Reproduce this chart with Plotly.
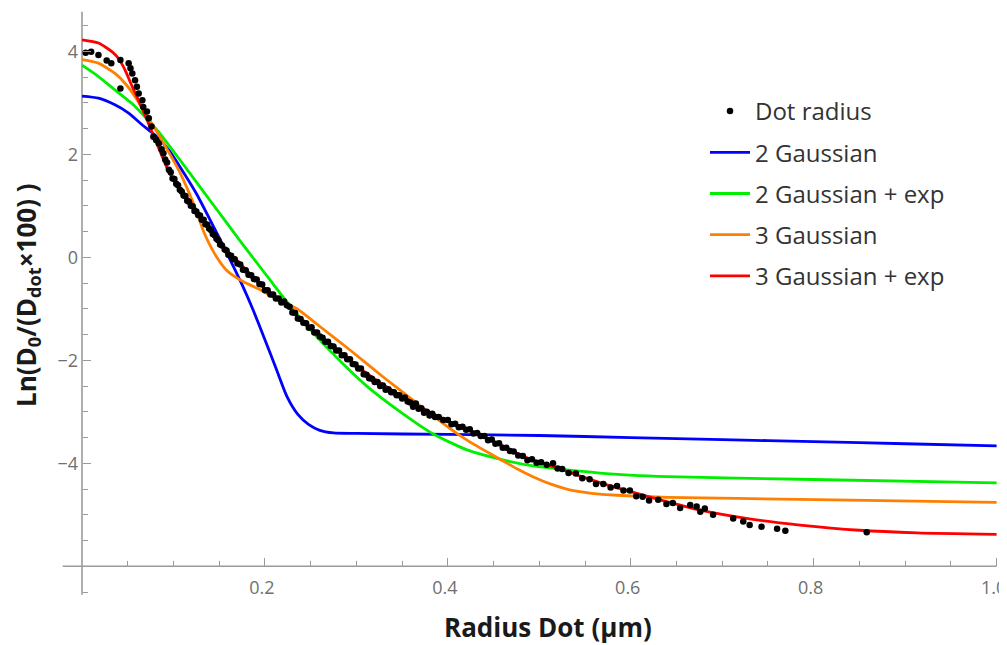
import plotly.graph_objects as go

# ---------------- data ----------------
dot_x = [0.004, 0.010, 0.018, 0.027, 0.032, 0.042, 0.042, 0.051, 0.053, 0.055,
         0.058, 0.060, 0.062, 0.066, 0.067, 0.071, 0.073, 0.076, 0.078, 0.081,
         0.084, 0.087, 0.089, 0.091, 0.093, 0.095, 0.097, 0.099, 0.101, 0.103,
         0.105, 0.107, 0.109, 0.111, 0.113, 0.115, 0.117, 0.119, 0.121, 0.123,
         0.125, 0.127, 0.129, 0.131, 0.133, 0.135, 0.137, 0.139, 0.141, 0.143,
         0.145, 0.147, 0.149, 0.151, 0.153, 0.156, 0.158, 0.160, 0.163, 0.165,
         0.167, 0.170, 0.173, 0.176, 0.179, 0.182, 0.185, 0.188, 0.191, 0.194,
         0.197, 0.200, 0.203, 0.206, 0.209, 0.212, 0.215, 0.218, 0.221, 0.224,
         0.227, 0.230, 0.233, 0.236, 0.239, 0.242, 0.245, 0.248, 0.251, 0.254,
         0.257, 0.260, 0.263, 0.266, 0.269, 0.272, 0.275, 0.278, 0.281, 0.284,
         0.287, 0.290, 0.293, 0.296, 0.299, 0.302, 0.305, 0.308, 0.311, 0.314,
         0.317, 0.320, 0.323, 0.326, 0.329, 0.332, 0.335, 0.338, 0.341, 0.344,
         0.347, 0.350, 0.353, 0.356, 0.359, 0.362, 0.365, 0.368, 0.371, 0.374,
         0.377, 0.380, 0.383, 0.386, 0.390, 0.395, 0.400, 0.404, 0.408, 0.412,
         0.416, 0.420, 0.424, 0.428, 0.432, 0.436, 0.440, 0.444, 0.448, 0.452,
         0.456, 0.460, 0.464, 0.468, 0.472, 0.477, 0.482, 0.487, 0.492, 0.497,
         0.502, 0.508, 0.515, 0.520, 0.525, 0.532, 0.540, 0.547, 0.555, 0.562,
         0.570, 0.578, 0.585, 0.592, 0.599, 0.606, 0.613, 0.620, 0.630, 0.639,
         0.646, 0.654, 0.665, 0.672, 0.676, 0.681, 0.690, 0.712, 0.723, 0.730,
         0.743, 0.760, 0.769, 0.858]
dot_y = [3.97, 3.99, 3.93, 3.82, 3.77, 3.83, 3.28, 3.77, 3.67, 3.57,
         3.44, 3.31, 3.18, 3.05, 2.92, 2.83, 2.70, 2.54, 2.34, 2.28,
         2.21, 2.10, 2.02, 1.90, 1.84, 1.70, 1.65, 1.53, 1.52, 1.43,
         1.40, 1.31, 1.28, 1.20, 1.19, 1.10, 1.08, 1.00, 0.99, 0.90,
         0.89, 0.82, 0.81, 0.73, 0.73, 0.64, 0.63, 0.56, 0.53, 0.45,
         0.43, 0.36, 0.33, 0.25, 0.23, 0.15, 0.13, 0.05, 0.03, -0.04,
         -0.04, -0.12, -0.14, -0.24, -0.25, -0.34, -0.35, -0.42, -0.43, -0.52,
         -0.53, -0.64, -0.64, -0.72, -0.72, -0.80, -0.80, -0.88, -0.86, -0.93,
         -0.96, -1.07, -1.08, -1.19, -1.20, -1.27, -1.28, -1.37, -1.36, -1.46,
         -1.46, -1.54, -1.56, -1.64, -1.64, -1.72, -1.73, -1.81, -1.81, -1.90,
         -1.90, -1.98, -1.98, -2.07, -2.08, -2.16, -2.16, -2.27, -2.28, -2.35,
         -2.36, -2.42, -2.42, -2.50, -2.49, -2.57, -2.56, -2.62, -2.62, -2.68,
         -2.68, -2.74, -2.72, -2.80, -2.82, -2.90, -2.84, -2.94, -2.93, -3.02,
         -3.00, -3.07, -3.04, -3.10, -3.10, -3.16, -3.16, -3.24, -3.23, -3.30,
         -3.29, -3.35, -3.34, -3.42, -3.41, -3.47, -3.47, -3.55, -3.54, -3.62,
         -3.61, -3.70, -3.70, -3.76, -3.77, -3.85, -3.86, -3.94, -3.92, -3.99,
         -3.98, -4.03, -4.00, -4.10, -4.11, -4.19, -4.20, -4.29, -4.31, -4.40,
         -4.40, -4.47, -4.44, -4.53, -4.53, -4.64, -4.65, -4.72, -4.71, -4.79,
         -4.77, -4.87, -4.81, -4.84, -4.94, -4.88, -5.00, -5.07, -5.13, -5.20,
         -5.23, -5.27, -5.31, -5.34]

g2_x = [0.000, 0.018, 0.036, 0.051, 0.066, 0.073, 0.082, 0.095, 0.107, 0.125,
        0.144, 0.162, 0.176, 0.187, 0.200, 0.212, 0.224, 0.236, 0.248, 0.260,
        0.275, 0.300, 0.400, 0.500, 0.600, 0.700, 0.800, 0.900, 1.000]
g2_y = [3.13, 3.09, 2.96, 2.80, 2.57, 2.47, 2.34, 2.08, 1.76, 1.24,
        0.59, -0.05, -0.57, -1.02, -1.60, -2.15, -2.70, -3.05, -3.25, -3.36,
        -3.41, -3.42, -3.44, -3.46, -3.50, -3.54, -3.58, -3.62, -3.66]

g2e_x = [0.000, 0.018, 0.036, 0.055, 0.066, 0.084, 0.099, 0.113, 0.133, 0.154,
         0.172, 0.190, 0.206, 0.227, 0.257, 0.285, 0.312, 0.348, 0.384, 0.421,
         0.457, 0.493, 0.566, 0.640, 0.785, 1.000]
g2e_y = [3.73, 3.51, 3.25, 2.98, 2.78, 2.43, 2.08, 1.75, 1.27, 0.77,
         0.34, -0.08, -0.45, -0.93, -1.55, -2.06, -2.51, -3.00, -3.43, -3.74,
         -3.92, -4.05, -4.19, -4.26, -4.31, -4.38]

g3_x = [0.000, 0.018, 0.036, 0.047, 0.058, 0.069, 0.078, 0.089, 0.107, 0.124,
        0.133, 0.144, 0.158, 0.176, 0.195, 0.216, 0.235, 0.257, 0.293, 0.329,
        0.366, 0.384, 0.402, 0.421, 0.439, 0.457, 0.475, 0.493, 0.512, 0.530,
        0.548, 0.566, 0.585, 0.640, 0.785, 1.000]
g3_y = [3.84, 3.77, 3.57, 3.38, 3.12, 2.80, 2.55, 2.22, 1.65, 0.95,
        0.50, 0.10, -0.25, -0.47, -0.63, -0.84, -1.00, -1.30, -1.80, -2.32,
        -2.83, -3.08, -3.32, -3.55, -3.74, -3.92, -4.10, -4.26, -4.40, -4.50,
        -4.56, -4.60, -4.62, -4.66, -4.70, -4.76]

g3e_x = [0.000, 0.018, 0.033, 0.040, 0.047, 0.055, 0.060, 0.071, 0.082, 0.096,
         0.114, 0.133, 0.151, 0.169, 0.187, 0.206, 0.224, 0.238, 0.257, 0.274,
         0.293, 0.311, 0.329, 0.348, 0.366, 0.384, 0.402, 0.421, 0.439, 0.457,
         0.482, 0.500, 0.523, 0.545, 0.574, 0.600, 0.630, 0.676, 0.730, 0.785,
         0.850, 0.913, 1.000]
g3e_y = [4.22, 4.16, 3.99, 3.86, 3.64, 3.31, 3.12, 2.67, 2.20, 1.62,
         1.18, 0.72, 0.27, -0.05, -0.38, -0.70, -0.92, -1.20, -1.47, -1.73,
         -2.00, -2.25, -2.47, -2.68, -2.87, -3.04, -3.20, -3.34, -3.48, -3.64,
         -3.86, -3.98, -4.11, -4.25, -4.42, -4.55, -4.70, -4.91, -5.08, -5.20,
         -5.30, -5.35, -5.38]

series_names = ["Dot radius", "2 Gaussian", "2 Gaussian + exp", "3 Gaussian", "3 Gaussian + exp"]
x_tick_vals = [0.2, 0.4, 0.6, 0.8, 1.0]
x_tick_text = ["0.2", "0.4", "0.6", "0.8", "1.0"]
y_tick_vals = [-4, -2, 0, 2, 4]
y_tick_text = ["\u22124", "\u22122", "0", "2", "4"]
x_minor = [0.05, 0.1, 0.15, 0.25, 0.3, 0.35, 0.45, 0.5, 0.55, 0.65, 0.7, 0.75, 0.85, 0.9, 0.95]
y_minor = [4.5, 3.5, 3, 2.5, 1.5, 1, 0.5, -0.5, -1, -1.5, -2.5, -3, -3.5, -4.5, -5, -5.5, -6.5]

# ---------------- geometry (reference pixels; page has an 8px body margin) ----------------
OFF = 8
W, H = 1007 - OFF, 645 - OFF
PLOT_L, PLOT_R, PLOT_T, PLOT_B = 60 - OFF, 1007 - OFF, 10 - OFF, 600 - OFF
ML, MR, MT, MB = PLOT_L, W - PLOT_R, PLOT_T, H - PLOT_B
plot_w = PLOT_R - PLOT_L
plot_h = PLOT_B - PLOT_T
PX_PER_X = 914.6
PX_PER_Y = 51.5
X0_PX = 82.0 - OFF
Y0_PX = 257.3 - OFF
x_range = [(PLOT_L - X0_PX) / PX_PER_X, (PLOT_R - X0_PX) / PX_PER_X]
y_range = [(Y0_PX - PLOT_B) / PX_PER_Y, (Y0_PX - PLOT_T) / PX_PER_Y]


def px_to_paper_x(px):
    return (px - OFF - PLOT_L) / plot_w


def px_to_paper_y(py):
    return (PLOT_B - (py - OFF)) / plot_h


FONT = "Open Sans"
AXIS_GRAY = "#9a9a9a"
TICK_GRAY = "#707070"

fig = go.Figure()

line_specs = [
    (g2_x, g2_y, series_names[1], "#0000ff", 2),
    (g2e_x, g2e_y, series_names[2], "#00ee00", 3),
    (g3_x, g3_y, series_names[3], "#ff8000", 4),
    (g3e_x, g3e_y, series_names[4], "#ff0000", 5),
]
for xs, ys, name, color, rank in line_specs:
    fig.add_trace(go.Scatter(
        x=xs, y=ys, mode="lines", name=name,
        line=dict(color=color, width=2.8, shape="spline", smoothing=0.6),
        legendgroup=name, legendrank=rank, hoverinfo="skip"))

fig.add_trace(go.Scatter(
    x=dot_x, y=dot_y, mode="markers", name=series_names[0],
    marker=dict(color="black", size=6.5),
    legendgroup=series_names[0], legendrank=1, hoverinfo="skip"))

# axis lines crossing at (0, -6), Mathematica style
fig.add_shape(type="line", xref="x", yref="y", x0=-0.021, x1=1.0, y0=-6, y1=-6,
              line=dict(color=AXIS_GRAY, width=1.6), layer="below")
fig.add_shape(type="line", xref="x", yref="y", x0=0, x1=0, y0=-6.55, y1=4.77,
              line=dict(color=AXIS_GRAY, width=1.6), layer="below")

x_axis_pos = (PLOT_B - (Y0_PX + 6 * PX_PER_Y)) / plot_h
y_axis_pos = (X0_PX - PLOT_L) / plot_w

fig.update_xaxes(
    range=x_range, anchor="free", position=x_axis_pos, automargin=False,
    showline=False, showgrid=False, zeroline=False,
    tickmode="array", tickvals=x_tick_vals, ticktext=x_tick_text,
    ticks="inside", ticklen=8, tickwidth=1.4, tickcolor=AXIS_GRAY,
    ticklabelstandoff=9, ticklabelshift=-3, ticklabeloverflow="allow",
    tickfont=dict(family=FONT, size=18, color=TICK_GRAY),
    minor=dict(tickmode="array", tickvals=x_minor, ticks="inside", ticklen=5,
               tickwidth=1.2, tickcolor=AXIS_GRAY, showgrid=False),
)
fig.update_yaxes(
    range=y_range, anchor="free", position=y_axis_pos, automargin=False,
    showline=False, showgrid=False, zeroline=False,
    tickmode="array", tickvals=y_tick_vals, ticktext=y_tick_text,
    ticks="inside", ticklen=8, tickwidth=1.4, tickcolor=AXIS_GRAY,
    ticklabelstandoff=4, ticklabeloverflow="allow",
    tickfont=dict(family=FONT, size=18, color=TICK_GRAY),
    minor=dict(tickmode="array", tickvals=y_minor, ticks="inside", ticklen=5,
               tickwidth=1.2, tickcolor=AXIS_GRAY, showgrid=False),
)

fig.add_annotation(text="<b>Radius Dot (\u03bcm)</b>", xref="paper", yref="paper",
                   x=px_to_paper_x(548), y=px_to_paper_y(627),
                   xanchor="center", yanchor="middle", showarrow=False,
                   font=dict(family=FONT, size=26, color="#1a1a1a"))
fig.add_annotation(text="<b>Ln(D<sub>0</sub>/(D<sub>dot</sub>\u00d7100) )</b>",
                   xref="paper", yref="paper",
                   x=px_to_paper_x(27), y=px_to_paper_y(295),
                   xanchor="center", yanchor="middle", textangle=-90, showarrow=False,
                   font=dict(family=FONT, size=26, color="#1a1a1a"))

fig.update_layout(
    width=W, height=H,
    margin=dict(l=ML, r=MR, t=MT, b=MB, autoexpand=False),
    paper_bgcolor="white", plot_bgcolor="white",
    hovermode=False,
    legend=dict(x=px_to_paper_x(705), y=px_to_paper_y(89),
                xanchor="left", yanchor="top", itemwidth=40,
                font=dict(family=FONT, size=24, color="#333333"),
                tracegroupgap=7, bgcolor="rgba(0,0,0,0)"),
)

fig.write_html("out.html", config={"displayModeBar": False})
